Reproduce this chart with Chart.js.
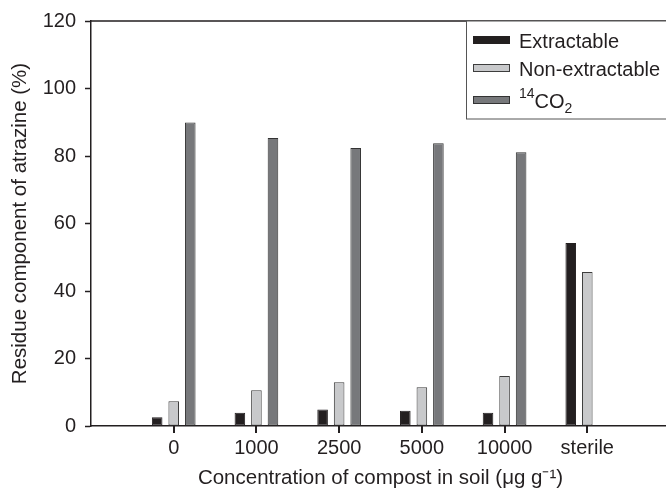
<!DOCTYPE html>
<html>
<head>
<meta charset="utf-8">
<script src="https://cdn.jsdelivr.net/npm/chart.js@4.4.1/dist/chart.umd.min.js"></script>
<style>
  html, body { margin: 0; padding: 0; background: #fff; overflow: hidden; }
  #wrap { width: 666px; height: 494px; overflow: hidden; }
  canvas { display: block; }
</style>
</head>
<body>
<div id="wrap"><canvas id="chart" width="680" height="494"></canvas></div>
<script>
// ── data ────────────────────────────────────────────────
const categories  = ["0", "1000", "2500", "5000", "10000", "sterile"];
const extractable = [2.6, 3.9, 4.9, 4.5, 3.9, 54.2];
const nonExtract  = [7.3, 10.6, 13.0, 11.5, 14.8, 45.6];
const co2         = [89.9, 85.3, 82.4, 83.8, 81.1, null];
const yMin = 0, yMax = 120, yStep = 20;

const INK = "#231f20";
const FONT = '"Liberation Sans", Arial, Helvetica, sans-serif';

// an empty slot on each side, like the original axis
const labels = ["", ...categories, ""];
const pad = (arr) => [null, ...arr, null];

Chart.defaults.font.family = FONT;
Chart.defaults.font.size   = 20;
Chart.defaults.color       = INK;

// legend drawn inside the plot, with the 14CO2 super/subscripts
const legendItems = [
  { parts: [["Extractable", 0]],              base: 48 },
  { parts: [["Non-extractable", 0]],          base: 76 },
  { parts: [["14", -1], ["CO", 0], ["2", 1]], base: 108 },
];

const framePlugin = {
  id: "frame",
  afterDraw(chart) {
    const { ctx, chartArea: a } = chart;
    const xs = chart.scales.x;
    ctx.save();
    // top and right side of the box
    ctx.strokeStyle = INK;
    ctx.lineWidth = 1.5;
    ctx.beginPath();
    ctx.moveTo(a.left, a.top);
    ctx.lineTo(a.right, a.top);
    ctx.lineTo(a.right, a.bottom);
    ctx.stroke();

    // x tick marks under the real categories only
    ctx.fillStyle = INK;
    categories.forEach((c, k) => {
      const px = Math.round(xs.getPixelForValue(k + 1));
      ctx.fillRect(px - 1, a.bottom, 2, 7);
    });

    // legend box
    const bx = 466.5, by = a.top, bw = 260, bh = 98;
    ctx.fillStyle = "#fff";
    ctx.fillRect(bx, by, bw, bh);
    ctx.strokeStyle = "#555";
    ctx.lineWidth = 1;
    ctx.strokeRect(bx, by, bw, bh);

    legendItems.forEach((it, i) => {
      const ds = chart.data.datasets[i];
      const sy = it.base - 8;
      ctx.fillStyle = ds.backgroundColor;
      ctx.fillRect(473, sy - 4, 37, 8);
      ctx.strokeStyle = ds.borderColor;
      ctx.lineWidth = 1;
      ctx.strokeRect(473.5, sy - 3.5, 36, 7);

      let x = 519;
      ctx.fillStyle = INK;
      ctx.textBaseline = "alphabetic";
      it.parts.forEach(([txt, shift]) => {
        const size = shift === 0 ? 20 : 14;
        ctx.font = `${size}px ${FONT}`;
        const y = it.base + (shift < 0 ? -10 : shift > 0 ? 5 : 0);
        ctx.fillText(txt, x, y);
        x += ctx.measureText(txt).width;
      });
    });
    ctx.restore();
  },
};

const barStyle = { borderWidth: 1, borderSkipped: false };

new Chart(document.getElementById("chart"), {
  type: "bar",
  data: {
    labels,
    datasets: [
      { label: "Extractable",     data: pad(extractable), backgroundColor: "#231f20", borderColor: "#231f20", ...barStyle },
      { label: "Non-extractable", data: pad(nonExtract),  backgroundColor: "#c8c9cb", borderColor: "#3d3d3d", ...barStyle },
      { label: "14CO2",           data: pad(co2),         backgroundColor: "#77787b", borderColor: "#333333", ...barStyle },
    ],
  },
  options: {
    responsive: false,
    animation: false,
    categoryPercentage: 0.6,
    barPercentage: 0.64,
    layout: { padding: { top: 18, right: 6, left: 0, bottom: 0 } },
    plugins: {
      legend:  { display: false },
      tooltip: { enabled: false },
    },
    scales: {
      x: {
        offset: false,
        border: { color: INK, width: 1.5 },
        grid: { display: false, drawTicks: false },
        ticks: { padding: 10, maxRotation: 0, autoSkip: false, color: INK },
        title: {
          display: true,
          text: "Concentration of compost in soil (\u03bcg g\u207b\u00b9)",
          color: INK,
          font: { size: 20.5 },
          padding: { top: 0, bottom: 3 },
        },
        afterFit: (s) => { s.height = 68; },
      },
      y: {
        min: yMin,
        max: yMax,
        border: { color: INK, width: 1.5 },
        grid: { drawOnChartArea: false, color: INK, tickLength: 6, tickWidth: 1.5, tickColor: INK },
        ticks: { stepSize: yStep, padding: 9, color: INK },
        title: {
          display: true,
          text: "Residue component of atrazine (%)",
          color: INK,
          font: { size: 20.5 },
          padding: { top: 8, bottom: 0 },
        },
        afterFit: (s) => { s.width = 91; },
      },
    },
  },
  plugins: [framePlugin],
});
</script>
</body>
</html>
